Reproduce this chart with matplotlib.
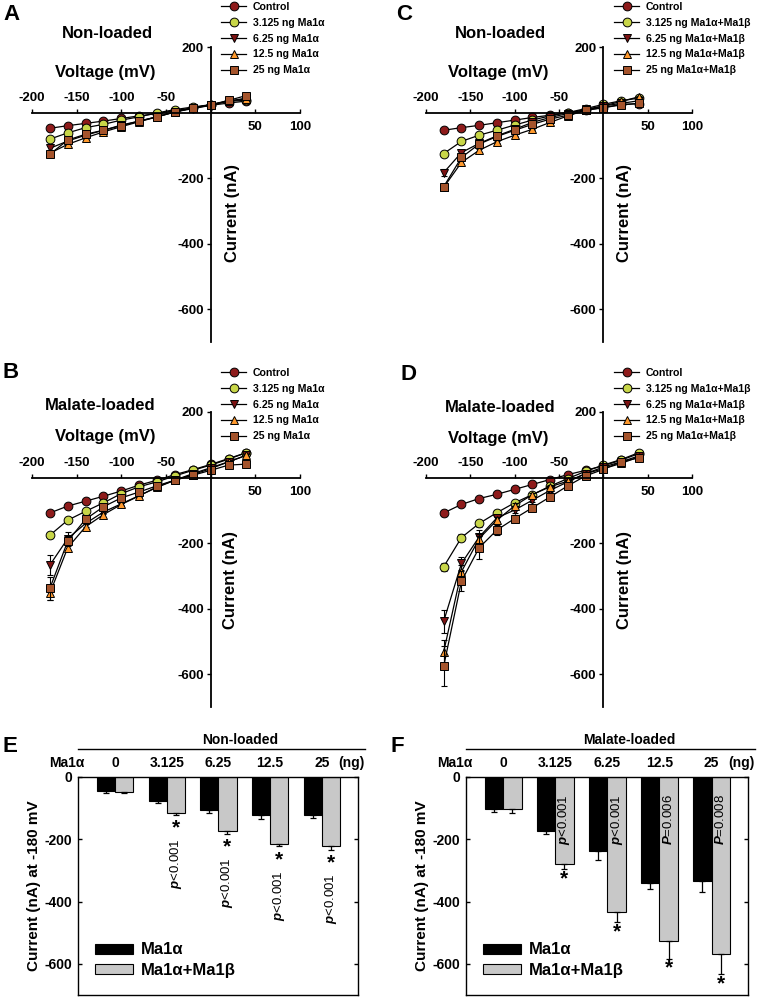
import numpy as np
import matplotlib
matplotlib.use("Agg")
import matplotlib.pyplot as plt

plt.rcParams['font.family'] = ['Liberation Sans', 'DejaVu Sans']
plt.rcParams['font.weight'] = 'bold'
plt.rcParams['mathtext.fontset'] = 'custom'
plt.rcParams['mathtext.rm'] = 'Liberation Sans'
plt.rcParams['mathtext.it'] = 'Liberation Sans:italic'

# ---------------- data ----------------
voltage = [-180, -160, -140, -120, -100, -80, -60, -40, -20, 0, 20, 40]
x_ticks_iv = [-200, -150, -100, -50, 0, 50, 100]
y_ticks_iv = [200, -200, -400, -600]

labels_a = ["Control", "3.125 ng Ma1\u03b1", "6.25 ng Ma1\u03b1", "12.5 ng Ma1\u03b1", "25 ng Ma1\u03b1"]
labels_ab = ["Control", "3.125 ng Ma1\u03b1+Ma1\u03b2", "6.25 ng Ma1\u03b1+Ma1\u03b2",
             "12.5 ng Ma1\u03b1+Ma1\u03b2", "25 ng Ma1\u03b1+Ma1\u03b2"]

# Panel A: non-loaded, Ma1a
A_ctrl = [-48, -40, -33, -26, -18, -10, -3, 6, 14, 22, 29, 35]
A_3125 = [-81, -62, -46, -36, -23, -13, -1, 9, 17, 24, 35, 37]
A_625 = [-109, -87, -69, -54, -38, -26, -13, 2, 12, 22, 35, 44]
A_125 = [-124, -97, -77, -59, -43, -28, -13, 2, 14, 24, 35, 42]
A_25 = [-127, -84, -66, -54, -40, -26, -13, 2, 14, 24, 37, 52]
A_err = [[3, 2, 2, 2, 2, 1, 1, 1, 1, 1, 1, 1],
         [4, 3, 3, 2, 2, 2, 1, 1, 1, 1, 2, 2],
         [8, 5, 4, 3, 3, 2, 2, 1, 1, 1, 2, 2],
         [6, 5, 4, 3, 3, 2, 2, 1, 1, 1, 2, 2],
         [6, 5, 4, 3, 3, 2, 2, 1, 1, 1, 2, 2]]

# Panel B: malate-loaded, Ma1a
B_ctrl = [-108, -87, -72, -57, -41, -23, -8, 9, 24, 40, 58, 76]
B_3125 = [-176, -130, -103, -77, -49, -28, -13, 5, 22, 38, 56, 76]
B_625 = [-267, -186, -140, -105, -80, -55, -30, -8, 12, 30, 48, 68]
B_125 = [-353, -214, -150, -113, -82, -56, -28, -8, 9, 27, 48, 68]
B_25 = [-338, -194, -127, -89, -62, -44, -25, -8, 7, 22, 38, 41]
B_err = [[5, 4, 3, 3, 2, 2, 2, 2, 2, 2, 2, 2],
         [8, 6, 5, 4, 3, 3, 2, 2, 2, 2, 3, 3],
         [30, 20, 10, 6, 5, 4, 3, 2, 2, 2, 3, 3],
         [20, 10, 8, 6, 5, 4, 3, 2, 2, 2, 3, 3],
         [35, 15, 8, 6, 5, 4, 3, 2, 2, 2, 3, 3]]

# Panel C: non-loaded, Ma1a+Ma1b
C_ctrl = [-54, -46, -39, -31, -23, -15, -8, 0, 7, 15, 25, 27]
C_3125 = [-125, -88, -69, -54, -38, -23, -10, 0, 12, 25, 36, 44]
C_625 = [-183, -122, -94, -71, -51, -30, -15, -3, 10, 20, 28, 36]
C_125 = [-228, -152, -115, -89, -69, -51, -30, -10, 7, 20, 34, 48]
C_25 = [-226, -137, -96, -73, -54, -36, -20, -8, 7, 15, 23, 28]
C_err = [[3, 2, 2, 2, 2, 1, 1, 1, 1, 1, 1, 1],
         [5, 4, 3, 3, 2, 2, 1, 1, 1, 1, 2, 2],
         [12, 6, 4, 3, 3, 2, 2, 1, 1, 1, 2, 2],
         [8, 6, 4, 3, 3, 2, 2, 1, 1, 1, 2, 2],
         [8, 6, 4, 3, 3, 2, 2, 1, 1, 1, 2, 2]]

# Panel D: malate-loaded, Ma1a+Ma1b
D_ctrl = [-108, -82, -64, -51, -36, -21, -6, 9, 22, 36, 53, 73]
D_3125 = [-272, -183, -140, -107, -77, -52, -26, -3, 19, 38, 55, 76]
D_625 = [-438, -262, -181, -123, -99, -69, -39, -13, 12, 32, 48, 66]
D_125 = [-531, -287, -186, -130, -86, -52, -28, -11, 12, 27, 43, 63]
D_25 = [-575, -316, -214, -160, -125, -92, -59, -25, 5, 25, 48, 60]
D_err = [[8, 5, 4, 3, 3, 2, 2, 2, 2, 2, 2, 2],
         [12, 12, 10, 8, 6, 4, 3, 2, 2, 2, 3, 3],
         [35, 20, 20, 10, 8, 6, 4, 3, 2, 2, 3, 3],
         [35, 20, 15, 10, 8, 6, 4, 3, 2, 2, 3, 3],
         [62, 30, 35, 15, 10, 8, 6, 4, 3, 2, 3, 3]]

# Bar panels (current at -180 mV)
doses = ["0", "3.125", "6.25", "12.5", "25"]
E_a = [-46, -78, -106, -122, -122]
E_a_err = [4, 5, 9, 12, 9]
E_ab = [-48, -117, -173, -214, -223]
E_ab_err = [3, 6, 9, 9, 11]
E_p = ["", "$\\it{p}$<0.001", "$\\it{p}$<0.001", "$\\it{p}$<0.001", "$\\it{p}$<0.001"]

F_a = [-104, -173, -237, -341, -334]
F_a_err = [7, 9, 29, 19, 34]
F_ab = [-102, -280, -432, -528, -567]
F_ab_err = [13, 16, 34, 55, 67]
F_p = ["", "$\\it{p}$<0.001", "$\\it{p}$<0.001", "$\\it{P}$=0.006", "$\\it{P}$=0.008"]

# ---------------- styles ----------------
series_style = [("o", "#8E1B1B"), ("o", "#C8D648"), ("v", "#7C1212"), ("^", "#FF9A2E"), ("s", "#A5542C")]

W, H = 763, 1000
fig = plt.figure(figsize=(W / 100, H / 100), dpi=100)


def P(x, y):
    return (x / W, 1 - y / H)


def rect(x0, y0, x1, y1):
    return [x0 / W, 1 - y1 / H, (x1 - x0) / W, (y1 - y0) / H]


def draw_iv(r, series, errs, labels, cond, letter, letter_xy, cond_xy, volt_xy, cur_xy, leg_xy):
    ax = fig.add_axes(r)
    ax.set_xlim(-200, 100)
    ax.set_ylim(-700, 200)
    for s in ("top", "right"):
        ax.spines[s].set_visible(False)
    ax.spines["left"].set_position(("data", 0))
    ax.spines["bottom"].set_position(("data", 0))
    for s in ("left", "bottom"):
        ax.spines[s].set_linewidth(1.3)
    for k, (y, e, (m, c), lab) in enumerate(zip(series, errs, series_style, labels)):
        ax.errorbar(voltage, y, yerr=e, fmt="none", ecolor="black", elinewidth=0.8,
                    capsize=2.2, capthick=0.8, zorder=2 + k * 0.1)
        ax.plot(voltage, y, color="black", lw=0.9, marker=m, mfc=c, mec="black",
                mew=0.7, ms=6.3, label=lab, zorder=2.05 + k * 0.1)
    ax.set_xticks(x_ticks_iv)
    ax.set_xticklabels([])
    ax.tick_params(axis="x", direction="in", length=3, width=1)
    for v in x_ticks_iv:
        if v < 0:
            ax.annotate(str(v), (v, 0), xytext=(0, 6), textcoords="offset points",
                        ha="center", va="bottom", fontsize=9.5, fontweight="bold")
        elif v > 0:
            ax.annotate(str(v), (v, 0), xytext=(0, -6), textcoords="offset points",
                        ha="center", va="top", fontsize=9.5, fontweight="bold")
    ax.set_yticks(y_ticks_iv)
    ax.set_yticklabels([str(v) for v in y_ticks_iv], fontsize=9.5, fontweight="bold")
    ax.tick_params(axis="y", direction="out", length=3, width=1, pad=2)
    fig.text(*P(*letter_xy), letter, fontsize=16, fontweight="bold", ha="left", va="center")
    fig.text(*P(*cond_xy), cond, fontsize=12, fontweight="bold", ha="center", va="center")
    fig.text(*P(*volt_xy), "Voltage (mV)", fontsize=12, fontweight="bold", ha="center", va="center")
    fig.text(*P(*cur_xy), "Current (nA)", fontsize=12, fontweight="bold", ha="center", va="center",
             rotation=90)
    ax.legend(loc="upper left", bbox_to_anchor=P(*leg_xy), bbox_transform=fig.transFigure,
              frameon=False, handlelength=2.4, handletextpad=0.6,
              labelspacing=0.55, borderpad=0, borderaxespad=0,
              prop={"weight": "bold", "size": 7.6})
    return ax


draw_iv(rect(32, 47, 300, 342), [A_ctrl, A_3125, A_625, A_125, A_25], A_err, labels_a,
        "Non-loaded", "A", (3, 15), (107, 33), (105, 72), (233, 213), (221, 2))
draw_iv(rect(32, 412, 300, 707), [B_ctrl, B_3125, B_625, B_125, B_25], B_err, labels_a,
        "Malate-loaded", "B", (3, 373), (100, 405), (105, 437), (231, 580), (221, 368))
draw_iv(rect(426, 47, 692, 342), [C_ctrl, C_3125, C_625, C_125, C_25], C_err, labels_ab,
        "Non-loaded", "C", (396, 15), (500, 33), (498, 72), (625, 213), (614, 2))
draw_iv(rect(426, 412, 692, 707), [D_ctrl, D_3125, D_625, D_125, D_25], D_err, labels_ab,
        "Malate-loaded", "D", (400, 375), (500, 407), (498, 438), (625, 580), (614, 368))


def draw_bar(r, a, ae, ab, abe, ptexts, cond, letter, letter_xy, stars_below):
    ax = fig.add_axes(r)
    x = np.arange(len(doses))
    w = 0.35
    ax.bar(x - w / 2, a, w, color="black", edgecolor="black", lw=0.8, label="Ma1\u03b1", zorder=2)
    ax.bar(x + w / 2, ab, w, color="#C8C8C8", edgecolor="black", lw=0.8, label="Ma1\u03b1+Ma1\u03b2",
           zorder=2)
    ax.errorbar(x - w / 2, a, yerr=[ae, np.zeros(len(ae))], fmt="none", ecolor="black",
                elinewidth=0.9, capsize=2.5, capthick=0.9, zorder=3)
    ax.errorbar(x + w / 2, ab, yerr=[abe, np.zeros(len(abe))], fmt="none", ecolor="black",
                elinewidth=0.9, capsize=2.5, capthick=0.9, zorder=3)
    ax.set_ylim(-700, 0)
    ax.set_xlim(-0.716, 4.70)
    ax.set_yticks([0, -200, -400, -600])
    ax.set_yticklabels(["0", "-200", "-400", "-600"], fontsize=10, fontweight="bold")
    ax.tick_params(axis="y", direction="in", left=True, right=True, length=3, width=1, pad=4)
    ax.xaxis.tick_top()
    ax.set_xticks(x)
    ax.set_xticklabels(doses, fontsize=10, fontweight="bold")
    ax.tick_params(axis="x", direction="in", top=True, bottom=False, length=3, width=1, pad=5)
    for s in ax.spines.values():
        s.set_linewidth(1.0)
    ax.set_ylabel("Current (nA) at -180 mV", fontsize=11, fontweight="bold", labelpad=3)
    ax.annotate("Ma1\u03b1", (-0.04, 1.0), xycoords="axes fraction", xytext=(0, 5),
                textcoords="offset points", ha="center", va="bottom", fontsize=10, fontweight="bold")
    ax.annotate("(ng)", (0.975, 1.0), xycoords="axes fraction", xytext=(0, 5),
                textcoords="offset points", ha="center", va="bottom", fontsize=10, fontweight="bold")
    ax.plot([0.0, 1.025], [1.128, 1.128], transform=ax.transAxes, color="black", lw=1.0,
            clip_on=False)
    ax.text(0.58, 1.168, cond, transform=ax.transAxes, ha="center", va="center", fontsize=10,
            fontweight="bold")
    for i, (v, e, t) in enumerate(zip(ab, abe, ptexts)):
        if not t:
            continue
        end = v - e
        if stars_below:
            ax.text(x[i] + w / 2, -55, t, rotation=90, ha="center", va="top", fontsize=9.5,
                    fontweight="normal")
            ax.text(x[i] + w / 2, end - 30, "*", ha="center", va="center", fontsize=15,
                    fontweight="bold")
        else:
            ax.text(x[i] + w / 2, end - 42, "*", ha="center", va="center", fontsize=15,
                    fontweight="bold")
            ax.text(x[i] + w / 2, end - 75, t, rotation=90, ha="center", va="top", fontsize=9.5,
                    fontweight="normal")
    ax.legend(loc="lower left", bbox_to_anchor=(0.0, 0.0), frameon=False,
              handlelength=2.3, handleheight=0.55, handletextpad=0.5, labelspacing=0.35,
              borderpad=0.5, prop={"weight": "bold", "size": 12})
    fig.text(*P(*letter_xy), letter, fontsize=16, fontweight="bold", ha="left", va="center")
    return ax


draw_bar(rect(78, 777, 358, 995), E_a, E_a_err, E_ab, E_ab_err, E_p, "Non-loaded", "E", (3, 747),
         False)
draw_bar(rect(466, 777, 748, 995), F_a, F_a_err, F_ab, F_ab_err, F_p, "Malate-loaded", "F",
         (391, 747), True)

fig.savefig("out.png", dpi=100)
